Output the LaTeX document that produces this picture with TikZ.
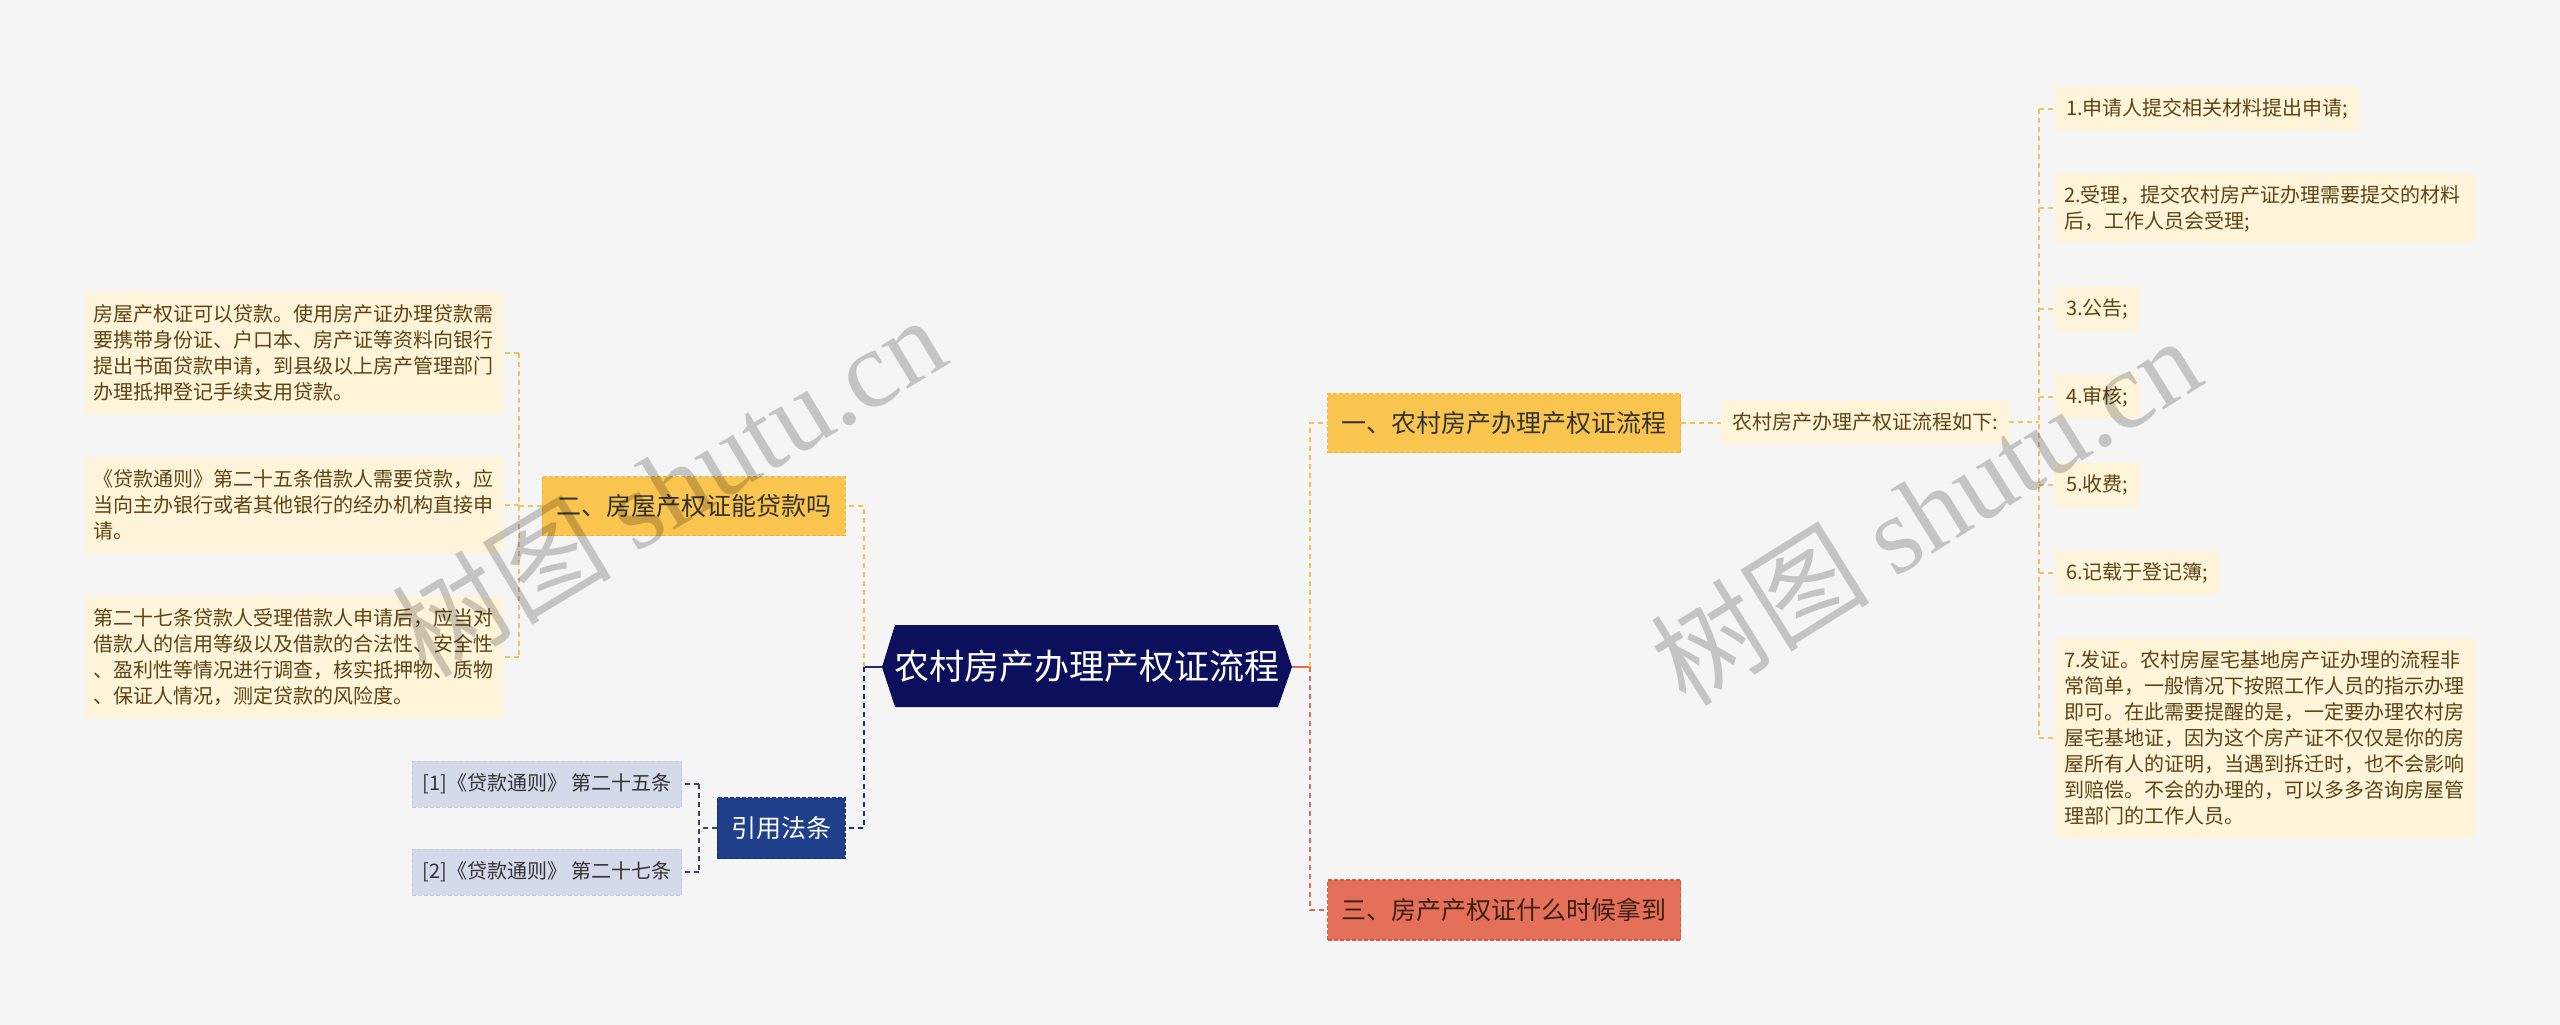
\documentclass[tikz,border=0pt]{standalone}
\usepackage{fontspec}
\setmainfont{Noto Sans CJK SC}
\newfontfamily\wmserif{Liberation Serif}
\usetikzlibrary{calc}
\definecolor{bg}{HTML}{F5F5F5}
\definecolor{navy}{HTML}{0B0F5C}
\definecolor{ybox}{HTML}{FAC54F}
\definecolor{yborder}{HTML}{EDB43E}
\definecolor{lbox}{HTML}{FEF4DA}
\definecolor{ltext}{HTML}{5E4414}
\definecolor{rbox}{HTML}{E5705A}
\definecolor{rborder}{HTML}{CF5A44}
\definecolor{rtext}{HTML}{3C1F14}
\definecolor{bbox}{HTML}{1F3F8A}
\definecolor{bborder}{HTML}{15307A}
\definecolor{refbg}{HTML}{D5DAEA}
\definecolor{refborder}{HTML}{C5CBDF}
\definecolor{darktext}{HTML}{333333}
\definecolor{yline}{HTML}{F4C048}
\definecolor{ylinet}{HTML}{F2C35E}
\definecolor{rline}{HTML}{DE6A52}
\definecolor{nline}{HTML}{1B2F6E}
\definecolor{refline}{HTML}{3A4560}
\newcommand\ms{\rule[-5.5pt]{0pt}{26pt}}
\tikzset{
  topicbox/.style={draw=yborder, fill=ybox, dashed, dash pattern=on 4pt off 2pt, line width=1.2pt,
    text=darktext, font=\fontsize{25}{30}\selectfont, inner xsep=14pt, inner ysep=0pt, minimum height=59pt},
  redbox/.style={topicbox, draw=rborder, fill=rbox, text=rtext, minimum height=60pt},
  lawbox/.style={topicbox, draw=bborder, fill=bbox, text=white, minimum height=61pt},
  leafbox/.style={fill=lbox, text=ltext, font=\fontsize{20}{26}\selectfont, inner xsep=9pt, inner ysep=9pt, align=left},
  leafone/.style={fill=lbox, text=ltext, font=\fontsize{20}{26}\selectfont, inner xsep=11pt, inner ysep=0pt, minimum height=44pt},
  refbx/.style={fill=refbg, draw=refborder, dashed, dash pattern=on 4pt off 2pt, line width=1pt,
    text=darktext, font=\fontsize{20}{26}\selectfont, inner xsep=10pt, inner ysep=0pt, minimum height=46pt},
  rootlabel/.style={text=white, font=\fontsize{35}{40}\selectfont, inner sep=0pt},
  mainc/.style={line width=2.2pt, dash pattern=on 5pt off 4pt},
  leafc/.style={line width=1.4pt, dash pattern=on 5pt off 4pt, draw=ylinet},
  refc/.style={line width=1.4pt, dash pattern=on 5pt off 4pt, draw=refline},
  wm/.style={text=black, text opacity=0.2, font=\fontsize{110}{110}\selectfont, inner sep=0pt}
}
\begin{document}
\begin{tikzpicture}[x=1pt,y=-1pt]
\fill[bg] (0,0) rectangle (2560,1025);
\useasboundingbox (0,0) rectangle (2560,1025);

% root hexagon
\coordinate (rootL) at (882,667);
\coordinate (rootR) at (1292,667);
\fill[navy] (rootL) -- (895,625) -- (1278,625) -- (rootR) -- (1278,707) -- (895,707) -- cycle;
\node[rootlabel] (root) at (1087,666) {农村房产办理产权证流程};

% main branches
\node[topicbox, anchor=east] (b2) at (846,506) {二、房屋产权证能贷款吗};
\node[lawbox, anchor=east] (law) at (846,828) {引用法条};
\node[topicbox, anchor=west] (b1) at (1327,423) {一、农村房产办理产权证流程};
\node[redbox, anchor=west] (b3) at (1327,910) {三、房产产权证什么时候拿到};

% refs
\node[refbx, anchor=east] (r1) at (682,784) {[1]《贷款通则》 第二十五条};
\node[refbx, anchor=east] (r2) at (682,872) {[2]《贷款通则》 第二十七条};

% left leaves
\node[leafbox, text width=400pt, anchor=east] (t1) at (503,353) {\ms 房屋产权证可以贷款。使用房产证办理贷款需\\要携带身份证、户口本、房产证等资料向银行\\提出书面贷款申请，到县级以上房产管理部门\\办理抵押登记手续支用贷款。\ms};
\node[leafbox, text width=400pt, anchor=east] (t2) at (503,505) {\ms《贷款通则》第二十五条借款人需要贷款，应\\当向主办银行或者其他银行的经办机构直接申\\请。\ms};
\node[leafbox, text width=400pt, anchor=east] (t3) at (503,657) {\ms 第二十七条贷款人受理借款人申请后，应当对\\借款人的信用等级以及借款的合法性、安全性\\、盈利性等情况进行调查，核实抵押物、质物\\、保证人情况，测定贷款的风险度。\ms};

% right side
\node[leafone, anchor=west] (sub) at (1721,422) {农村房产办理产权证流程如下:};
\node[leafone, anchor=west] (i1) at (2055,109) {1.申请人提交相关材料提出申请;};
\node[leafbox, text width=402pt, anchor=west] (i2) at (2055,208) {\ms 2.受理，提交农村房产证办理需要提交的材料\\后，工作人员会受理;\ms};
\node[leafone, anchor=west] (i3) at (2055,309) {3.公告;};
\node[leafone, anchor=west] (i4) at (2055,397) {4.审核;};
\node[leafone, anchor=west] (i5) at (2055,485) {5.收费;};
\node[leafone, anchor=west] (i6) at (2055,573) {6.记载于登记簿;};
\node[leafbox, text width=402pt, anchor=west] (i7) at (2055,738) {\ms 7.发证。农村房屋宅基地房产证办理的流程非\\常简单，一般情况下按照工作人员的指示办理\\即可。在此需要提醒的是，一定要办理农村房\\屋宅基地证，因为这个房产证不仅仅是你的房\\屋所有人的证明，当遇到拆迁时，也不会影响\\到赔偿。不会的办理的，可以多多咨询房屋管\\理部门的工作人员。\ms};

% connectors: root
\coordinate (lj) at (864,667);
\coordinate (rj) at (1310,667);
\draw[line width=2.4pt, nline] (rootL) -- (lj);
\draw[line width=2.4pt, rline] (rootR) -- (rj);
\draw[mainc, yline] (lj) |- (b2.east);
\draw[mainc, nline] (lj) |- (law.east);
\draw[mainc, yline] (rj) |- (b1.west);
\draw[mainc, rline] (rj) |- (b3.west);

% left leaves
\coordinate (trunkL) at (519,0);
\draw[leafc] (b2.west) -- (b2.west -| trunkL);
\draw[leafc] (t1.east -| trunkL) -- (t3.east -| trunkL);
\foreach \n in {t1,t2,t3} \draw[leafc] (\n.east -| trunkL) -- (\n.east);

% refs
\coordinate (trunkRef) at (699,0);
\draw[refc] (law.west) -- (law.west -| trunkRef);
\draw[refc] (r1.east -| trunkRef) -- (r2.east -| trunkRef);
\foreach \n in {r1,r2} \draw[refc] (\n.east -| trunkRef) -- (\n.east);

% right
\coordinate (trunkR) at (2039,0);
\draw[mainc, yline, line width=1.8pt] (b1.east) -- (b1.east -| sub.west);
\draw[leafc] (sub.east) -- (sub.east -| trunkR);
\draw[leafc] (i1.west -| trunkR) -- (i7.west -| trunkR);
\foreach \n in {i1,i2,i3,i4,i5,i6,i7} \draw[leafc] (\n.west -| trunkR) -- (\n.west);

% watermarks
\node[wm, rotate=31] (wm1) at (668,485) {树图 {\wmserif shutu.cn}};
\node[wm, rotate=32] (wm2) at (1925,510) {树图 {\wmserif shutu.cn}};
\end{tikzpicture}
\end{document}
